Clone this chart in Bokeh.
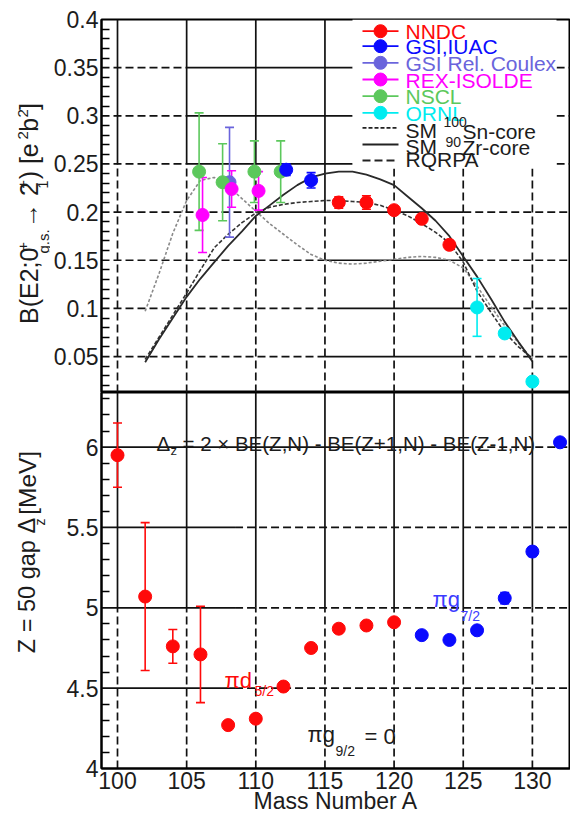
import numpy as np
from bokeh.plotting import figure
from bokeh.models import Range1d, FixedTicker
from bokeh.layouts import column, row
from bokeh.core.properties import value
from bokeh.embed import file_html
from bokeh.resources import INLINE

# ---------------- data ----------------
# upper panel: B(E2; 0+ g.s. -> 2+_1) [e^2 b^2]
nndc_A = [116, 118, 120, 122, 124]
nndc_B = [0.210, 0.210, 0.202, 0.193, 0.166]
nndc_err = [0.006, 0.007, 0.004, 0.004, 0.004]

gsi_iuac_A = [112.2, 114.0]
gsi_iuac_B = [0.244, 0.233]
gsi_iuac_err = [0.006, 0.008]

gsi_rel_A = [108.1]
gsi_rel_B = [0.231]
gsi_rel_err = [0.057]

rex_A = [106.15, 108.25, 110.2]
rex_B = [0.197, 0.224, 0.222]
rex_err = [0.039, 0.019, 0.020]

nscl_A = [105.9, 107.6, 109.9, 111.8]
nscl_B = [0.242, 0.231, 0.242, 0.242]
nscl_err = [0.061, 0.040, 0.032, 0.032]

ornl_A = [126, 128, 130]
ornl_B = [0.101, 0.074, 0.024]
ornl_err = [0.030, 0.0, 0.0]

theory_A = [102, 103, 104, 105, 106, 107, 108, 109, 110, 111, 112, 113, 114, 115,
            116, 117, 118, 119, 120, 121, 122, 123, 124, 125, 126, 127, 128, 129, 130]
sm_sn100 = [0.047, 0.070, 0.093, 0.116, 0.140, 0.163, 0.177, 0.189, 0.199, 0.205,
            0.208, 0.210, 0.211, 0.212, 0.212, 0.211, 0.210, 0.207, 0.202, 0.196,
            0.188, 0.179, 0.168, 0.148, 0.118, 0.096, 0.075, 0.060, 0.048]
sm_zr90 = [0.044, 0.068, 0.090, 0.112, 0.131, 0.148, 0.165, 0.180, 0.196, 0.207,
           0.218, 0.228, 0.236, 0.240, 0.242, 0.242, 0.239, 0.234, 0.228, 0.216,
           0.204, 0.191, 0.175, 0.154, 0.133, 0.110, 0.086, 0.065, 0.045]
rqrpa = [0.097, 0.136, 0.178, 0.212, 0.233, 0.236, 0.227, 0.214, 0.201, 0.188,
         0.177, 0.166, 0.156, 0.150, 0.147, 0.146, 0.147, 0.149, 0.151, 0.153,
         0.154, 0.153, 0.150, 0.142, 0.123, 0.102, 0.082, 0.064, 0.047]

# lower panel: Z = 50 gap [MeV]
gap_nndc_A = [100, 102, 104, 106, 108, 110, 112, 114, 116, 118, 120]
gap_nndc = [5.95, 5.07, 4.76, 4.71, 4.27, 4.31, 4.51, 4.75, 4.87, 4.89, 4.91]
gap_nndc_err = [0.20, 0.46, 0.105, 0.30, 0, 0, 0, 0, 0, 0, 0]

gap_gsi_A = [122, 124, 126, 128, 130, 132]
gap_gsi = [4.83, 4.80, 4.86, 5.06, 5.35, 6.03]
gap_gsi_err = [0, 0, 0, 0.035, 0.03, 0.02]

# ticks
x_ticks = [100, 105, 110, 115, 120, 125, 130]
x_tick_labels = ["100", "105", "110", "115", "120", "125", "130"]
top_y_ticks = [0.05, 0.1, 0.15, 0.2, 0.25, 0.3, 0.35, 0.4]
top_y_labels = ["0.05", "0.1", "0.15", "0.2", "0.25", "0.3", "0.35", "0.4"]
bot_y_ticks = [4, 4.5, 5, 5.5, 6]
bot_y_labels = ["4", "4.5", "5", "5.5", "6"]

# ---------------- colours ----------------
C_NNDC = "#ff0a0a"
C_IUAC = "#0a0aff"
C_REL = "#6a64dc"
C_REX = "#ff00ff"
C_NSCL = "#5cc85c"
C_ORNL = "#00ecf0"
C_TXT = "#1c1c1c"
FONT = "Liberation Sans"

# ---------------- geometry helpers (pixel -> data) ----------------
LW = 50                 # width of the strip holding the rotated y titles
X0, X1 = 98.843, 132.756
FW = 469
PXU = FW / (X1 - X0)
T_FH = 373
T_Y1 = 0.4
T_Y0 = 0.4 - T_FH / 963.0
B_FH = 376
B_BOTTOM = 815 - 392 - B_FH
B_Y0, B_Y1 = 4.0, 6.34


def dx(px):
    return X0 + (px - 101) / PXU


def ty(py):
    return T_Y1 - (py - 19) / 963.0


def by(py):
    return B_Y1 - (py - 392) * (B_Y1 - B_Y0) / B_FH


def ident(v):
    return v


def txt(p, text, xpx, ypx, xconv, yconv, size, color=C_TXT, angle=0.0, align="left"):
    # (xpx, ypx): page-pixel position of the text's vertical centre line
    p.text(x=[xconv(xpx)], y=[yconv(ypx)], text=[text], angle=angle,
           text_font=value(FONT), text_font_size=value(f"{size}px"),
           text_color=color, text_align=align, text_baseline="middle")


def lab(p, text, xpx, ypx, yconv, size, color=C_TXT, align="left"):
    txt(p, text, xpx, ypx, dx, yconv, size, color=color, align=align)


def style_axis(ax, ticks, labels, minors, minor_in=8):
    ax.ticker = FixedTicker(ticks=ticks, minor_ticks=minors)
    ax.major_label_overrides = {t: l for t, l in zip(ticks, labels)}
    ax.major_label_text_font = FONT
    ax.major_label_text_font_size = "23px"
    ax.major_label_text_color = C_TXT
    ax.axis_line_color = "black"
    ax.axis_line_width = 2
    ax.major_tick_line_color = "black"
    ax.minor_tick_line_color = "black"
    ax.major_tick_line_width = 1.5
    ax.minor_tick_line_width = 1.5
    ax.major_tick_in = 0
    ax.major_tick_out = 0
    ax.minor_tick_in = minor_in
    ax.minor_tick_out = 0
    ax.major_label_standoff = 3


def grid_segments(p, segs, dash):
    if not segs:
        return
    x0, y0, x1, y1 = zip(*segs)
    p.segment(x0=list(x0), y0=list(y0), x1=list(x1), y1=list(y1),
              line_color="#111111", line_width=1.7, line_dash=dash)


def errbars(p, A, V, E, color):
    a = np.array(A, float)
    v = np.array(V, float)
    e = np.array(E, float)
    m = e > 0
    if not m.any():
        return
    p.segment(x0=a[m], y0=v[m] - e[m], x1=a[m], y1=v[m] + e[m],
              line_color=color, line_width=1.6)
    p.scatter(np.concatenate([a[m], a[m]]), np.concatenate([v[m] - e[m], v[m] + e[m]]),
              marker="dash", size=9, line_color=color, line_width=1.6)


def blank_fig(w, h, xr, yr):
    f = figure(width=w, height=h, x_range=xr, y_range=yr, x_axis_location=None,
               y_axis_location=None, toolbar_location=None, output_backend="svg",
               min_border_left=0, min_border_right=0, min_border_top=0,
               min_border_bottom=0, outline_line_color=None)
    f.grid.visible = False
    return f


# ================= upper panel =================
p1 = figure(frame_width=FW, frame_height=T_FH, x_range=Range1d(X0, X1),
            y_range=Range1d(T_Y0, T_Y1), x_axis_location=None,
            toolbar_location=None, output_backend="svg",
            min_border_left=101 - LW, min_border_right=0, min_border_top=19,
            min_border_bottom=0, background_fill_color="white")
p1.grid.visible = False
p1.outline_line_color = "black"
p1.outline_line_width = 2
top_minor = [round(v, 2) for v in np.arange(0.02, 0.40, 0.01) if round(v * 100) % 5 != 0]
style_axis(p1.yaxis[0], top_y_ticks, top_y_labels, top_minor)

solid, dashed = [], []
for xv in x_ticks:
    if xv <= 110:
        solid.append((xv, 0.25, xv, T_Y1)); dashed.append((xv, T_Y0, xv, 0.25))
    elif xv == 115:
        solid.append((xv, 0.2, xv, T_Y1)); dashed.append((xv, T_Y0, xv, 0.2))
    else:
        dashed.append((xv, T_Y0, xv, T_Y1))
for yv in top_y_ticks[:-1]:
    if yv >= 0.25:
        dashed.append((X0, yv, 105, yv)); solid.append((105, yv, 117, yv))
        dashed.append((117, yv, X1, yv))
    else:
        s0 = 110 if yv == 0.2 else 115
        dashed.append((X0, yv, s0, yv)); solid.append((s0, yv, 125, yv))
        dashed.append((125, yv, X1, yv))
grid_segments(p1, dashed, "8 4")
grid_segments(p1, solid, "solid")

# white legend area
p1.quad(left=dx(352), right=dx(556), bottom=ty(168), top=T_Y1,
        fill_color="white", line_color=None)

# theory curves
p1.line(theory_A, rqrpa, line_color="#8a8a8a", line_width=1.6, line_dash="3 2")
p1.line(theory_A, sm_sn100, line_color="#333333", line_width=1.6, line_dash="4 2")
p1.line(theory_A, sm_zr90, line_color="#2a2a2a", line_width=1.8)

# data
top_sets = [
    (gsi_rel_A, gsi_rel_B, gsi_rel_err, C_REL),
    (nscl_A, nscl_B, nscl_err, C_NSCL),
    (rex_A, rex_B, rex_err, C_REX),
    (gsi_iuac_A, gsi_iuac_B, gsi_iuac_err, C_IUAC),
    (nndc_A, nndc_B, nndc_err, C_NNDC),
    (ornl_A, ornl_B, ornl_err, C_ORNL),
]
for A, V, E, c in top_sets:
    errbars(p1, A, V, E, c)
for A, V, E, c in top_sets:
    p1.scatter(A, V, size=13, marker="circle", fill_color=c, line_color=c)

# legend
leg_marks = [("NNDC", C_NNDC, 30.7), ("GSI,IUAC", C_IUAC, 45.7),
             ("GSI Rel. Coulex", C_REL, 62.3), ("REX-ISOLDE", C_REX, 79.0),
             ("NSCL", C_NSCL, 95.7), ("ORNL", C_ORNL, 112.3)]
for name, c, rw in leg_marks:
    p1.segment(x0=[dx(362)], y0=[ty(rw)], x1=[dx(398)], y1=[ty(rw)],
               line_color=c, line_width=1.8)
    p1.scatter([dx(380)], [ty(rw)], size=13, marker="circle", fill_color=c, line_color=c)
    lab(p1, name, 405, rw + 0.5, ty, 21, color=c)

leg_lines = [("4 2", 127.3), ("solid", 144.0), ("8 4", 160.0)]
for dash, rw in leg_lines:
    p1.segment(x0=[dx(362)], y0=[ty(rw)], x1=[dx(398)], y1=[ty(rw)],
               line_color="#222222", line_width=1.8, line_dash=dash)
lab(p1, "SM", 405, 130, ty, 21)
lab(p1, "100", 443, 121.5, ty, 14)
lab(p1, "Sn-core", 462, 131, ty, 21)
lab(p1, "SM", 405, 146, ty, 21)
lab(p1, "90", 445, 141, ty, 14)
lab(p1, "Zr-core", 462, 147, ty, 21)
lab(p1, "RQRPA", 405, 159, ty, 21)

# strip with the rotated y title of the upper panel (page pixels)
l1 = blank_fig(LW, 19 + T_FH, Range1d(0, LW), Range1d(19 + T_FH, 0))
ypieces = [("B(E2;0", 320, 25, 28.5), ("+", 243, 15, 22.5), ("g.s.", 246, 15, 42.5),
           ("\u2192 2", 219, 25, 28.5), ("+", 178, 15, 22.5), ("1", 178, 15, 42.5),
           (") [e", 168, 25, 28.5), ("2", 126, 15, 22.5), ("b", 118, 25, 28.5),
           ("2", 103, 15, 22.5), ("]", 95, 25, 28.5)]
for t, ypx, sz, xpx in ypieces:
    txt(l1, t, xpx, ypx, ident, ident, sz, angle=np.pi / 2)

# ================= lower panel =================
p2 = figure(frame_width=FW, frame_height=B_FH, x_range=Range1d(X0, X1),
            y_range=Range1d(B_Y0, B_Y1), toolbar_location=None,
            output_backend="svg", min_border_left=101 - LW, min_border_right=0,
            min_border_top=0, min_border_bottom=B_BOTTOM,
            background_fill_color="white")
p2.grid.visible = False
p2.outline_line_color = "black"
p2.outline_line_width = 2
bot_minor = [round(v, 1) for v in np.arange(4.1, 6.34, 0.1) if round(v * 10) % 5 != 0]
style_axis(p2.yaxis[0], bot_y_ticks, bot_y_labels, bot_minor)
style_axis(p2.xaxis[0], x_ticks, x_tick_labels, [], minor_in=0)
p2.xaxis.major_label_standoff = 3
p2.xaxis.major_label_text_line_height = 1.0
p2.xaxis.axis_label = "Mass Number A"
p2.xaxis.axis_label_text_font = FONT
p2.xaxis.axis_label_text_font_size = "23px"
p2.xaxis.axis_label_text_font_style = "normal"
p2.xaxis.axis_label_text_color = C_TXT
p2.xaxis.axis_label_text_line_height = 1.0
p2.xaxis.axis_label_standoff = -4

solid, dashed = [], []
for xv in x_ticks:
    solid.append((xv, 5.0, xv, B_Y1)); dashed.append((xv, B_Y0, xv, 5.0))
for yv in bot_y_ticks[1:]:
    s1 = 125 if yv == 6 else 108.5
    solid.append((X0, yv, s1, yv)); dashed.append((s1, yv, X1, yv))
grid_segments(p2, dashed, "8 4")
grid_segments(p2, solid, "solid")

errbars(p2, gap_nndc_A, gap_nndc, gap_nndc_err, C_NNDC)
errbars(p2, gap_gsi_A, gap_gsi, gap_gsi_err, C_IUAC)
p2.scatter(gap_nndc_A, gap_nndc, size=13, marker="circle", fill_color=C_NNDC, line_color=C_NNDC)
p2.scatter(gap_gsi_A, gap_gsi, size=13, marker="circle", fill_color=C_IUAC, line_color=C_IUAC)

# formula
lab(p2, "\u0394", 156, 443, by, 20.5)
lab(p2, "z", 170, 449.5, by, 13)
lab(p2, "= 2 \u00d7 BE(Z,N) - BE(Z+1,N) - BE(Z-1,N)", 182, 443, by, 20.5)
# orbit labels
lab(p2, "\u03c0d", 224, 680, by, 22, color=C_NNDC)
lab(p2, "5/2", 254, 690, by, 14, color=C_NNDC)
lab(p2, "\u03c0g", 432, 598.5, by, 22, color="#3c3cff")
lab(p2, "7/2", 460, 615, by, 14, color="#3c3cff")
lab(p2, "\u03c0g", 307, 734, by, 22)
lab(p2, "9/2", 335, 750, by, 14)
lab(p2, "= 0", 364, 736, by, 22)

# strip with the rotated y title of the lower panel (page pixels)
l2 = blank_fig(LW, B_FH + B_BOTTOM, Range1d(0, LW), Range1d(815, 392))
txt(l2, "Z = 50 gap  \u0394", 26.5, 686, ident, ident, 23.5, angle=np.pi / 2)
txt(l2, "z", 39.5, 542, ident, ident, 14, angle=np.pi / 2)
txt(l2, "[MeV]", 26.5, 530, ident, ident, 24.5, angle=np.pi / 2)

layout = column(row(l1, p1), row(l2, p2))
open("out.html", "w").write(file_html(layout, INLINE))
